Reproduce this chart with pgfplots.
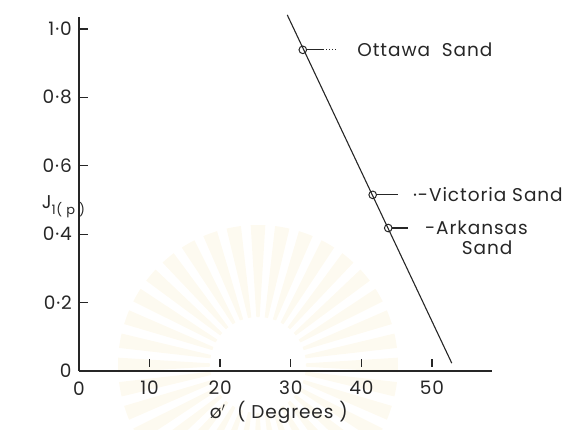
\documentclass[border=0pt]{standalone}
\usepackage{pgfplots}
\pgfplotsset{compat=1.18}
\usepackage{fontspec}
\setmainfont{Poppins}[LetterSpace=5]
\definecolor{wm}{RGB}{250,238,205}
\begin{document}
\begin{tikzpicture}[x=1pt,y=1pt]
\path[use as bounding box] (0,0) rectangle (562,429);
% faint sunburst watermark in the background
\begin{scope}[shift={(258,64)}]
  \foreach \a in {0,10,...,350} {
    \fill[wm, fill opacity=0.3] (\a-2:48) -- (\a-3:140) arc[start angle=\a-3, end angle=\a+3, radius=140] -- (\a+2:48) -- cycle;
  }
\end{scope}
\begin{axis}[
  at={(79pt,58pt)}, anchor=south west,
  scale only axis, width=413pt, height=354pt,
  xmin=0, xmax=58.5, ymin=0, ymax=1.035,
  axis x line=bottom, axis y line=left,
  x axis line style={-}, y axis line style={-},
  axis line style={line width=1.3pt, color=black!85},
  xtick={10,20,30,40,50},
  ytick={0.2,0.4,0.6,0.8,1.0},
  yticklabels={0·2,0·4,0·6,0·8,1·0},
  /pgf/number format/assume math mode=true,
  xtick align=inside, ytick align=inside,
  major tick length=9pt,
  tick style={line width=1.2pt, color=black!85},
  xtick style={draw=none},
  every tick label/.append style={font=\fontsize{18.5}{20}\selectfont, text=black!85, inner sep=0pt},
  xticklabel style={anchor=north, yshift=-10pt},
  yticklabel style={anchor=east, xshift=-7pt},
  clip=false,
]
% fitted line
\addplot[black!85, line width=1.1pt] coordinates {(29.5,1.041) (52.8,0.023)};
% measured sands
\addplot[only marks, mark=o, mark size=3.8pt, mark options={line width=1pt, black!85}]
  coordinates {(31.7,0.939) (41.6,0.515) (43.8,0.418)};
% short tick strokes standing just above the phi axis
\pgfplotsinvokeforeach{10,20,30,40,50}{
  \draw[black!85, line width=1.4pt] (axis cs:#1,0.012) -- (axis cs:#1,0.036);
}
% leader lines
\draw[black!85, line width=1.1pt] (axis cs:32.2,0.939) -- (axis cs:34.6,0.939);
\draw[black!85, line width=0.8pt, dash pattern=on 1pt off 2pt] (axis cs:34.6,0.939) -- (axis cs:36.4,0.939);
\draw[black!85, line width=1.1pt] (axis cs:42.1,0.515) -- (axis cs:45.2,0.515);
\draw[black!85, line width=1.1pt] (axis cs:44.3,0.418) -- (axis cs:46.6,0.418);
\begin{scope}[every node/.style={font=\fontsize{18.5}{20}\selectfont, text=black!85, inner sep=0pt}]
\node[anchor=west] at (axis cs:39.4,0.939) {Ottawa\ \ Sand};
\node[anchor=west] at (axis cs:47.3,0.515) {·-Victoria\ Sand};
\node[anchor=west] at (axis cs:49.0,0.418) {-Arkansas};
\node[anchor=west] at (axis cs:54.2,0.360) {Sand};
% labels at the origin and the axis titles
\node at (axis cs:-1.9,0) {0};
\node at (axis cs:0,-0.052) {0};
\node[anchor=west] at (axis cs:-5.3,0.48) {J\textsubscript{1( p )}};
\node[anchor=west] at (axis cs:18.5,-0.12) {ø$'$\ \ (\ Degrees\ )};
\end{scope}
\end{axis}
\end{tikzpicture}
\end{document}
